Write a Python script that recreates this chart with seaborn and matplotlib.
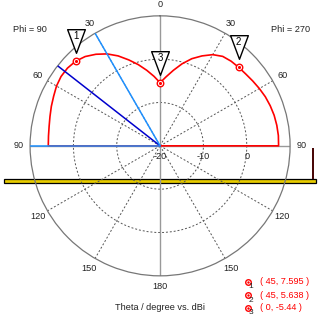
import numpy as np
import seaborn as sns
import matplotlib.pyplot as plt
from matplotlib.patches import Rectangle
from matplotlib.path import Path
from matplotlib.transforms import offset_copy

# Antenna elevation pattern, two cuts (theta in degrees, gain in dBi)
phi90_theta = [0, 5, 10, 15, 20, 25, 30, 35, 40, 45, 50, 55, 60, 65, 70, 75, 80, 85, 90, 90]
phi90_gain = [-5.44, -3.9, -2.3, -0.6, 1.1, 2.9, 4.5, 5.8, 6.9, 7.595, 7.9, 7.9, 7.6, 7.1,
              6.7, 6.3, 6.0, 5.85, 5.8, -20]
phi270_theta = [0, 5, 10, 15, 20, 25, 30, 35, 40, 45, 50, 55, 60, 65, 70, 75, 80, 85, 90, 90]
phi270_gain = [-5.44, -4.0, -2.3, -0.4, 1.4, 2.9, 4.3, 5.2, 5.5, 5.638, 5.8, 6.1, 6.45, 6.8,
               7.05, 7.25, 7.35, 7.4, 7.35, -20]

# Beam direction (max) and half power edges for phi = 90
beam_max_theta = 52
beam_edge_theta = [30, 90]

# Markers: theta, gain, side (-1 = phi 90 on the left, +1 = phi 270 on the right)
marker_ids = ["1", "2", "3"]
marker_theta = [45, 45, 0]
marker_gain = [7.595, 5.638, -5.44]
marker_side = [-1, 1, -1]

# Axis ticks
theta_ticks = [0, 30, 60, 90, 120, 150, 180, 210, 240, 270, 300, 330]
theta_labels = ["0", "30", "60", "90", "120", "150", "180", "150", "120", "90", "60", "30"]
r_min, r_max = -20, 10
r_rings = [-10, 0]
r_labels = [-20, -10, 0]

sns.set_style("white")
plt.rcParams["font.family"] = ["Liberation Sans", "DejaVu Sans"]
fs = 6.6

fig = plt.figure(figsize=(3.2, 3.2), dpi=100)

# Background layer in pixel coordinates for the ground plane
bg = fig.add_axes([0, 0, 1, 1], zorder=0)
bg.set_xlim(0, 320)
bg.set_ylim(320, 0)
bg.axis("off")
bg.add_patch(Rectangle((4, 179), 312, 4, facecolor="#E8CC00", edgecolor="black", lw=0.9))
bg.add_patch(Rectangle((311.5, 148), 2.2, 31, facecolor="#4A0808", edgecolor="none"))

# Polar chart
ax = fig.add_axes([0.094, 0.138, 0.8125, 0.8125], projection="polar", zorder=1)
ax.set_facecolor("none")
ax.set_theta_zero_location("N")
ax.set_theta_direction(-1)
ax.set_ylim(r_min, r_max)
ax.set_yticks(r_rings)
ax.set_yticklabels([])
ax.set_thetagrids(theta_ticks, theta_labels, fontsize=fs, color="#222222")
ax.tick_params(axis="x", length=0, pad=1)
ax.grid(True, color="#555555", ls=(0, (2, 2)), lw=0.7)
ax.spines["polar"].set_color("#777777")
ax.spines["polar"].set_linewidth(0.9)

# Solid main axes (0-180 and 90-270)
for a in [0, 90, 180, 270]:
    ax.axvline(np.deg2rad(a), color="#999999", lw=1.0, zorder=2)

# Radial tick labels under the right horizontal axis
lab_tr = offset_copy(ax.transData, fig=fig, x=0, y=-11, units="dots")
for r in r_labels:
    ax.text(np.deg2rad(90), r, str(r), transform=lab_tr, ha="center", va="center",
            fontsize=fs, color="#222222", zorder=5)

# Pattern curves
sns.lineplot(x=np.deg2rad(phi270_theta), y=phi270_gain, ax=ax, sort=False,
             estimator=None, color="red", lw=1.2, zorder=3)
sns.lineplot(x=-np.deg2rad(phi90_theta), y=phi90_gain, ax=ax, sort=False,
             estimator=None, color="red", lw=1.2, zorder=3)

# Beam lines
ax.plot([-np.deg2rad(beam_max_theta)] * 2, [r_min, r_max], color="#0000CC", lw=1.1, zorder=4)
for t in beam_edge_theta:
    ax.plot([-np.deg2rad(t)] * 2, [r_min, r_max], color="#1E90FF", lw=1.1, zorder=4)

# Markers with triangle flags
mth = np.deg2rad(marker_theta) * np.array(marker_side)
sns.scatterplot(x=mth, y=marker_gain, ax=ax, s=22, facecolor="white",
                edgecolor="red", linewidth=1.0, zorder=6)
ax.scatter(mth, marker_gain, s=1.5, color="red", zorder=7)
tri = Path([(-0.75, 1), (0.75, 1), (0, -1), (-0.75, 1)],
           [Path.MOVETO, Path.LINETO, Path.LINETO, Path.CLOSEPOLY])
tri_tr = offset_copy(ax.transData, fig=fig, x=0, y=20, units="dots")
num_tr = offset_copy(ax.transData, fig=fig, x=0, y=25, units="dots")
for lab, t, g in zip(marker_ids, mth, marker_gain):
    ax.plot([t], [g], marker=tri, ms=17, mfc="white", mec="black", mew=1.0, ls="none",
            transform=tri_tr, zorder=8, clip_on=False)
    ax.text(t, g, lab, transform=num_tr, ha="center", va="center", fontsize=7,
            color="black", zorder=9)

# Texts
fig.text(13 / 320, 1 - 29 / 320, "Phi = 90", fontsize=fs, color="#222222", va="center")
fig.text(310 / 320, 1 - 29 / 320, "Phi = 270", fontsize=fs, color="#222222",
         va="center", ha="right")
fig.text(0.5, 1 - 308 / 320, "Theta / degree vs. dBi", fontsize=fs, color="#222222",
         ha="center", va="center")

# Marker legend
for i, (lab, t, g) in enumerate(zip(marker_ids, marker_theta, marker_gain)):
    y = 282 + i * 13
    bg.plot(248, y, "o", ms=4, mfc="white", mec="red", mew=1.0)
    bg.plot(248, y, ".", ms=1.5, color="red")
    bg.text(250.5, y + 5, lab, fontsize=6, color="#222222", ha="center", va="center")
    bg.text(260, y, f"( {t}, {g:g} )", fontsize=fs, color="red", va="center")

fig.savefig("out.png", dpi=100)
